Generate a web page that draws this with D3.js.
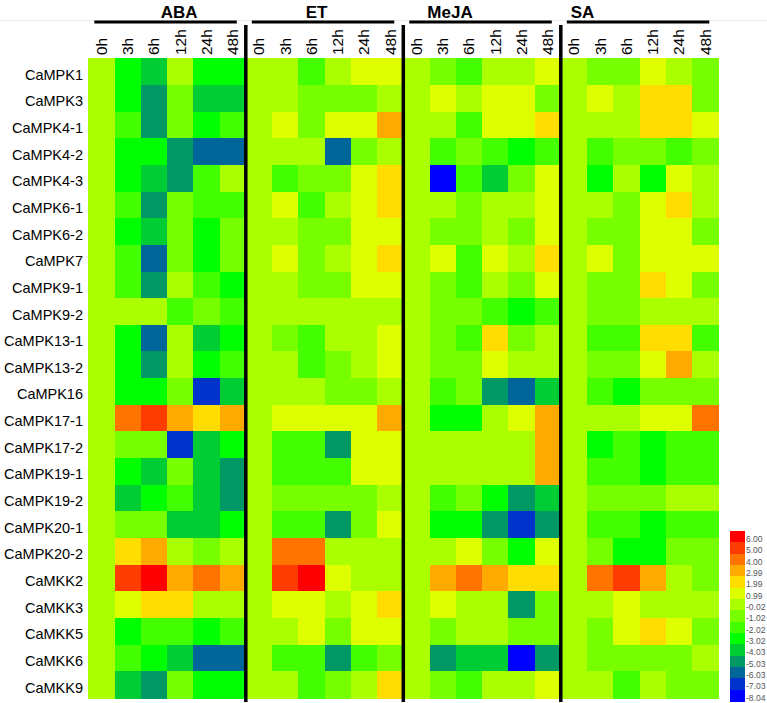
<!DOCTYPE html>
<html>
<head>
<meta charset="utf-8">
<script src="https://cdn.jsdelivr.net/npm/d3@7"></script>
<style>
  html, body { margin: 0; padding: 0; background: #fff; }
  svg { display: block; font-family: "Liberation Sans", Arial, sans-serif; }
</style>
</head>
<body>
<svg id="chart" width="767" height="703"></svg>
<script>
// ---------------- data ----------------
const genes = ["CaMPK1","CaMPK3","CaMPK4-1","CaMPK4-2","CaMPK4-3","CaMPK6-1","CaMPK6-2","CaMPK7",
  "CaMPK9-1","CaMPK9-2","CaMPK13-1","CaMPK13-2","CaMPK16","CaMPK17-1","CaMPK17-2","CaMPK19-1",
  "CaMPK19-2","CaMPK20-1","CaMPK20-2","CaMKK2","CaMKK3","CaMKK5","CaMKK6","CaMKK9"];
const treatments = ["ABA","ET","MeJA","SA"];
const timepoints = ["0h","3h","6h","12h","24h","48h"];

// log2 fold change per gene (rows) x timepoint (columns)
const aba = [
  [0,-3,-4,0,-3,-3],[0,-3,-5,-1,-4,-4],[0,-2,-5,-1,-3,-2],[0,-3,-3,-5,-6,-6],
  [0,-3,-4,-5,-2,0],[0,-2,-5,-1,-2,-2],[0,-3,-4,-1,-3,-1],[0,-2,-6,-1,-3,-1],
  [0,-2,-5,0,-2,-3],[0,0,0,-2,-1,-2],[0,-3,-6,0,-4,-3],[0,-3,-5,0,-3,-2],
  [0,-3,-3,-1,-7,-4],[0,4,5,3,2,3],[0,-1,-1,-7,-4,-3],[0,-3,-4,-1,-4,-5],
  [0,-4,-3,-2,-4,-5],[0,-1,-1,-4,-4,-3],[0,2,3,0,-1,0],[0,5,6,3,4,3],
  [0,1,2,2,0,0],[0,-3,-2,-2,-3,-2],[0,-2,-3,-4,-6,-6],[0,-4,-5,-1,-3,-3]
];
const et = [
  [0,0,-2,0,1,1],[0,0,-1,-1,-1,0],[0,1,-1,1,1,3],[0,0,0,-6,-1,0],
  [0,-2,-1,-1,1,2],[0,1,-2,0,1,2],[0,0,-1,-1,1,1],[0,1,-1,0,1,2],
  [0,0,-1,-1,1,1],[0,0,0,0,0,0],[0,-1,-2,0,0,1],[0,0,-2,-1,0,1],
  [0,0,0,-1,-1,0],[0,1,1,1,1,3],[0,-2,-2,-5,1,1],[0,-2,-2,-2,1,1],
  [0,-1,-1,-1,-1,0],[0,-2,-2,-5,-1,1],[0,4,4,0,0,0],[0,5,6,1,0,0],
  [0,1,1,0,1,2],[0,0,1,-1,1,1],[0,-2,-2,-5,-2,-1],[0,0,-2,-1,0,2]
];
const meja = [
  [0,-1,-2,0,0,1],[0,1,0,1,1,-1],[0,0,-2,1,1,2],[0,-2,-1,-2,-3,-2],
  [0,-8,-2,-4,-1,1],[0,0,-1,0,0,1],[0,-1,-1,0,-1,1],[0,1,-2,1,0,2],
  [0,-1,-2,0,-1,1],[0,-1,-1,-2,-3,-2],[0,-1,-2,2,-1,0],[0,-1,-1,1,0,0],
  [0,-2,-1,-5,-6,-4],[0,-3,-3,0,1,3],[0,0,0,0,0,3],[0,0,0,0,0,3],
  [0,-2,-1,-3,-5,-4],[0,-3,-3,-5,-7,-5],[0,0,1,-1,-3,1],[0,3,4,3,2,2],
  [0,1,0,0,-5,-1],[0,-1,0,0,-1,-1],[0,-5,-4,-4,-8,-5],[0,-1,-2,0,0,1]
];
const sa = [
  [0,-1,-1,1,0,-1],[0,1,0,2,2,-1],[0,0,0,2,2,1],[0,-2,-1,-1,-2,-1],
  [0,-3,0,-3,1,0],[0,0,-1,1,2,0],[0,-1,-1,1,1,-1],[0,1,-1,1,1,1],
  [0,-1,-1,2,1,-1],[0,-1,-1,0,0,0],[0,-2,-2,2,2,-2],[0,-1,-1,1,3,0],
  [0,-2,-3,-1,-1,-1],[0,0,0,1,1,4],[0,-3,-2,-3,-2,-2],[0,-2,-2,-3,-2,-2],
  [0,-1,-1,-1,0,0],[0,-2,-2,-3,-2,-2],[0,-1,-3,-3,-1,-1],[0,4,5,3,0,-1],
  [0,0,1,0,0,0],[0,-1,1,2,1,-1],[0,-1,-1,-1,-1,0],[0,0,-2,0,-1,-1]
];
const legendLabels = ["6.00","5.00","4.00","2.99","1.99","0.99","-0.02","-1.02","-2.02","-3.02","-4.03","-5.03","-6.03","-7.03","-8.04"];
const legendColors = ["#ff0000","#ff3c00","#ff7300","#ffaa00","#ffdd00","#ddff00","#aaff00","#77ff00","#44ff00","#00ff00","#00cc33","#009966","#006699","#0033cc","#0000ff"];

// ---------------- layout ----------------
const W = 767, H = 703;
const gLeft = 88.3, gRight = 718.3, gTop = 58.3, gBottom = 698;
const headerDx = [12, -8, -32, -57];

const seriesByTreatment = {ABA: aba, ET: et, MeJA: meja, SA: sa};
const columns = [];
treatments.forEach(t => timepoints.forEach(tp => columns.push(t + "|" + tp)));

const svg = d3.select("#chart");
svg.append("rect").attr("width", W).attr("height", H).attr("fill", "#fff");

const x = d3.scaleBand().domain(columns).range([gLeft, gRight]).padding(0);
const y = d3.scaleBand().domain(genes).range([gTop, gBottom]).padding(0);

// colour: discrete levels taken from legend
const legendVals = legendLabels.map(Number);
const asc = legendVals.slice().reverse();
const ascColors = legendColors.slice().reverse();
const thresholds = d3.range(asc.length - 1).map(i => (asc[i] + asc[i + 1]) / 2);
const color = d3.scaleThreshold().domain(thresholds).range(ascColors);

// cells
const cells = [];
treatments.forEach(t => {
  seriesByTreatment[t].forEach((row, gi) => {
    row.forEach((v, ti) => cells.push({gene: genes[gi], col: t + "|" + timepoints[ti], v}));
  });
});
svg.append("g").attr("shape-rendering", "crispEdges")
  .selectAll("rect").data(cells).join("rect")
  .attr("x", d => x(d.col)).attr("y", d => y(d.gene))
  .attr("width", x.bandwidth() + 0.5).attr("height", y.bandwidth() + 0.5)
  .attr("fill", d => color(d.v));

// faint top rule
svg.append("line").attr("x1", 0).attr("x2", W).attr("y1", 20.5).attr("y2", 20.5)
  .attr("stroke", "#ececec").attr("stroke-width", 1);

// group headers
const bw = x.bandwidth();
treatments.forEach((t, i) => {
  const x0 = x(t + "|" + timepoints[0]);
  const x1 = x(t + "|" + timepoints[timepoints.length - 1]) + bw;
  svg.append("line").attr("x1", x0 + 6).attr("x2", x1 - 9).attr("y1", 22).attr("y2", 22)
    .attr("stroke", "#000").attr("stroke-width", 3);
  svg.append("text").attr("x", (x0 + x1) / 2 + headerDx[i]).attr("y", 17.5)
    .attr("text-anchor", "middle").attr("font-weight", "bold").attr("font-size", 17)
    .attr("fill", "#000").text(t);
  if (i > 0) {
    svg.append("line").attr("x1", x0).attr("x2", x0).attr("y1", 25).attr("y2", 702)
      .attr("stroke", "#000").attr("stroke-width", 3.5);
  }
});

// column labels
svg.append("g").selectAll("text").data(columns).join("text")
  .attr("transform", d => `translate(${x(d) + bw / 2 + 5.5},55) rotate(-90)`)
  .attr("text-anchor", "start").attr("font-size", 15.5).attr("fill", "#000")
  .text(d => d.split("|")[1]);

// row labels
svg.append("g").selectAll("text").data(genes).join("text")
  .attr("x", 83).attr("y", d => y(d) + y.bandwidth() / 2 + 8)
  .attr("text-anchor", "end").attr("font-size", 14.5).attr("fill", "#000")
  .text(d => d);

// legend
const ly = d3.scaleBand().domain(legendLabels).range([531, 701]).padding(0);
const lg = svg.append("g");
lg.selectAll("rect").data(legendLabels).join("rect")
  .attr("shape-rendering", "crispEdges")
  .attr("x", 730).attr("y", d => ly(d)).attr("width", 15).attr("height", ly.bandwidth() + 0.5)
  .attr("fill", (d, i) => legendColors[i]);
lg.selectAll("text").data(legendLabels).join("text")
  .attr("x", 746).attr("y", d => ly(d) + ly.bandwidth() - 0.5)
  .attr("font-size", 8.5).attr("fill", "#555")
  .text(d => d);
</script>
</body>
</html>
